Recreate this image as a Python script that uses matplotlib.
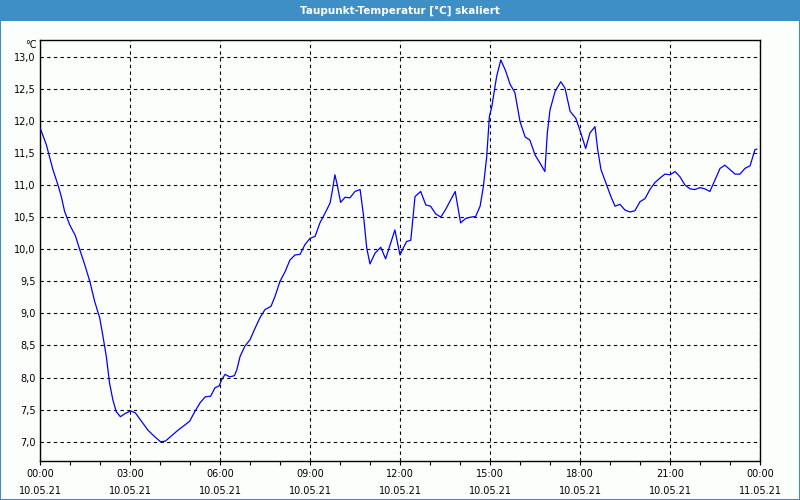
import matplotlib
matplotlib.use("Agg")
import matplotlib.pyplot as plt
from matplotlib.patches import Rectangle

# Stunden seit 10.05.21 00:00 und Taupunkt in °C
stunden = [0.02, 0.21, 0.43, 0.60, 0.71, 0.82, 0.99, 1.18, 1.32, 1.49, 1.66, 1.82, 1.99,
           2.10, 2.21, 2.32, 2.43, 2.54, 2.68, 2.84, 3.02, 3.18, 3.38, 3.60, 3.82, 4.02,
           4.18, 4.38, 4.60, 4.77, 4.99, 5.16, 5.34, 5.51, 5.69, 5.83, 5.97, 6.06, 6.17,
           6.33, 6.48, 6.56, 6.67, 6.83, 7.00, 7.17, 7.33, 7.50, 7.70, 7.83, 8.00, 8.17,
           8.33, 8.50, 8.67, 8.83, 9.00, 9.17, 9.33, 9.50, 9.67, 9.74, 9.83, 9.91, 10.02,
           10.17, 10.33, 10.50, 10.67, 10.78, 10.89, 11.00, 11.17, 11.36, 11.52, 11.67,
           11.83, 12.00, 12.11, 12.22, 12.36, 12.50, 12.69, 12.86, 13.02, 13.19, 13.36,
           13.52, 13.69, 13.84, 14.02, 14.19, 14.36, 14.52, 14.67, 14.78, 14.89, 14.98,
           15.06, 15.22, 15.36, 15.52, 15.67, 15.83, 16.00, 16.17, 16.33, 16.50, 16.67,
           16.83, 16.91, 17.00, 17.17, 17.36, 17.50, 17.67, 17.86, 18.00, 18.19, 18.33,
           18.50, 18.59, 18.70, 18.89, 19.03, 19.17, 19.33, 19.50, 19.67, 19.83, 20.00,
           20.17, 20.33, 20.50, 20.67, 20.83, 21.00, 21.17, 21.33, 21.50, 21.67, 21.83,
           22.00, 22.17, 22.33, 22.50, 22.67, 22.83, 23.00, 23.17, 23.33, 23.50, 23.67,
           23.83, 23.89]
taupunkt = [11.87, 11.63, 11.24, 11.00, 10.82, 10.59, 10.38, 10.21, 10.00, 9.76, 9.50, 9.19, 8.93,
            8.64, 8.33, 7.91, 7.65, 7.47, 7.39, 7.44, 7.48, 7.45, 7.32, 7.18, 7.08, 7.00,
            7.01, 7.09, 7.18, 7.24, 7.32, 7.47, 7.61, 7.70, 7.71, 7.84, 7.87, 7.97, 8.05,
            8.01, 8.03, 8.12, 8.33, 8.49, 8.59, 8.77, 8.93, 9.06, 9.11, 9.26, 9.50, 9.65,
            9.83, 9.91, 9.92, 10.07, 10.17, 10.20, 10.41, 10.56, 10.72, 10.90, 11.16, 11.00, 10.73,
            10.81, 10.80, 10.90, 10.93, 10.54, 10.02, 9.77, 9.94, 10.03, 9.85, 10.07,
            10.30, 9.91, 10.02, 10.12, 10.14, 10.82, 10.90, 10.69, 10.67, 10.55, 10.50,
            10.62, 10.77, 10.90, 10.41, 10.48, 10.50, 10.51, 10.67, 10.98, 11.44, 12.07,
            12.22, 12.69, 12.95, 12.78, 12.57, 12.44, 11.99, 11.75, 11.70, 11.47, 11.34,
            11.21, 11.81, 12.17, 12.46, 12.61, 12.51, 12.15, 12.04, 11.85, 11.57, 11.81,
            11.91, 11.55, 11.24, 11.00, 10.82, 10.67, 10.70, 10.61, 10.58, 10.60, 10.74,
            10.79, 10.93, 11.04, 11.11, 11.17, 11.16, 11.21, 11.13, 11.00, 10.94, 10.93,
            10.96, 10.94, 10.90, 11.08, 11.26, 11.31, 11.24, 11.17, 11.17, 11.26, 11.30,
            11.55, 11.56]

x_ticks = [0, 3, 6, 9, 12, 15, 18, 21, 24]
x_labels = ["00:00\n10.05.21", "03:00\n10.05.21", "06:00\n10.05.21", "09:00\n10.05.21",
            "12:00\n10.05.21", "15:00\n10.05.21", "18:00\n10.05.21", "21:00\n10.05.21",
            "00:00\n11.05.21"]
y_ticks = [7.0, 7.5, 8.0, 8.5, 9.0, 9.5, 10.0, 10.5, 11.0, 11.5, 12.0, 12.5, 13.0]

blau = "#3d8fc6"
plt.rcParams["font.family"] = ["DejaVu Sans"]

fig = plt.figure(figsize=(8, 5), dpi=100, facecolor="#fcfefc")

# Titelleiste und Rahmen
fig.patches.append(Rectangle((0, 0.958), 1, 0.042, transform=fig.transFigure,
                             facecolor=blau, edgecolor="none", zorder=0))
fig.patches.append(Rectangle((0.0006, 0.001), 0.9988, 0.998, transform=fig.transFigure,
                             facecolor="none", edgecolor=blau, lw=1.5, zorder=1))
fig.text(0.5, 0.979, "Taupunkt-Temperatur [°C] skaliert", color="white",
         fontsize=7.5, fontweight="bold", ha="center", va="center")

ax = fig.add_axes([0.05, 0.078, 0.90, 0.842])
ax.set_facecolor("#fcfefc")
ax.plot(stunden, taupunkt, color="#0000ff", lw=0.9, zorder=3)

ax.set_xlim(0, 24)
ax.set_ylim(6.70, 13.26)

ax.set_xticks(x_ticks)
ax.set_xticklabels(x_labels, fontsize=7, linespacing=1.8)
ax.set_xticks(range(25), minor=True)
ax.tick_params(axis="x", which="both", direction="out", length=3, width=0.8, pad=3)
ax.set_yticks(y_ticks)
ax.set_yticklabels([f"{v:.1f}".replace(".", ",") for v in y_ticks], fontsize=7)
ax.tick_params(axis="y", length=0, pad=3)

ax.grid(True, which="major", color="black", lw=0.8, linestyle=(0, (3, 3)))
for s in ax.spines.values():
    s.set_linewidth(1.0)
    s.set_color("black")

fig.text(37 / 800, 1 - 45 / 500, "°C", fontsize=7, ha="right", va="center")

fig.savefig("out.png", dpi=100, facecolor=fig.get_facecolor())
